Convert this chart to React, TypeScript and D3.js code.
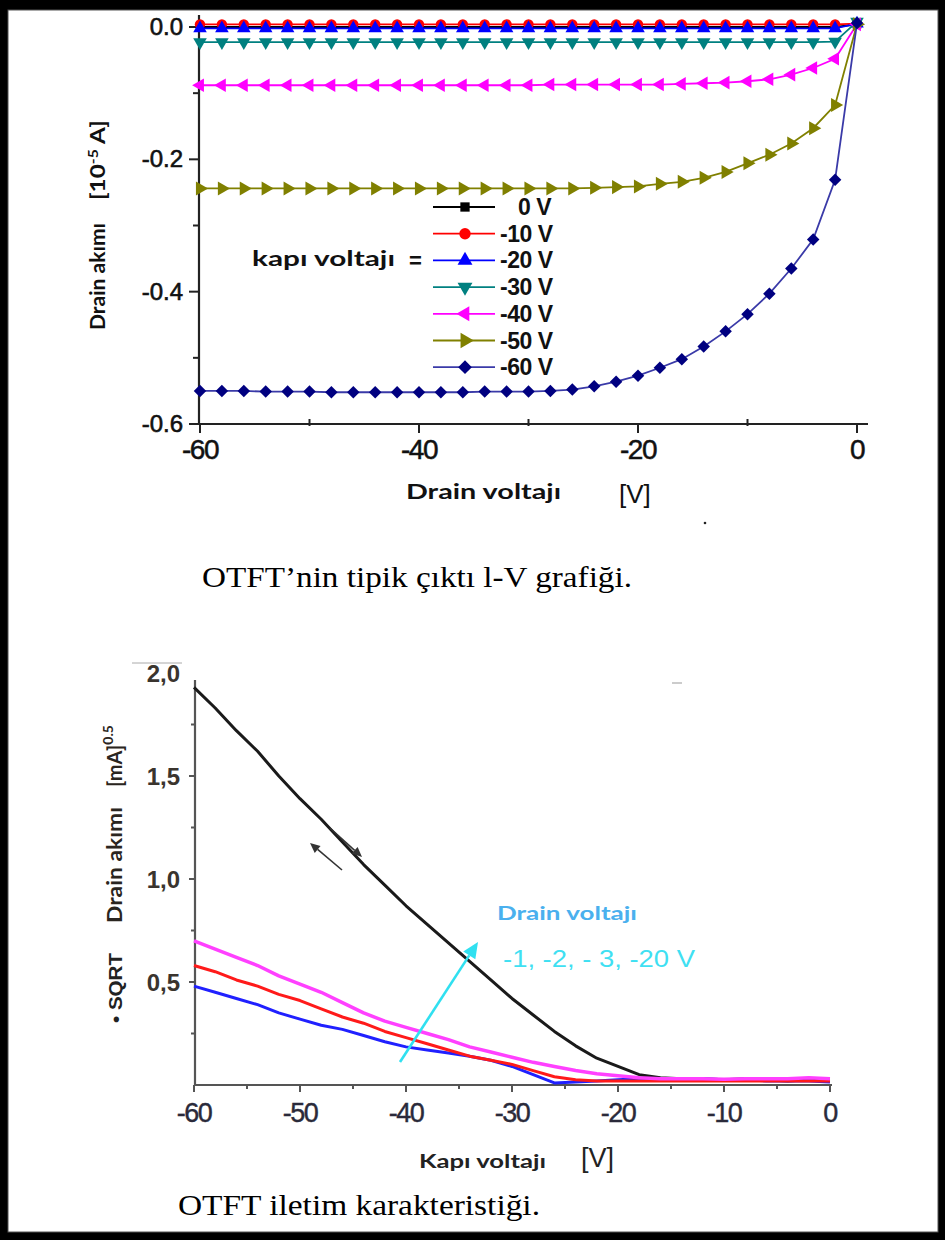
import React from "react";
import * as d3 from "d3";

// ---- top chart: output curves, drain voltage -60..0 V step 2
const drainV = [-60, -58, -56, -54, -52, -50, -48, -46, -44, -42, -40, -38, -36, -34, -32, -30,
  -28, -26, -24, -22, -20, -18, -16, -14, -12, -10, -8, -6, -4, -2, 0];

const gate0 = [0, 0, 0, 0, 0, 0, 0, 0, 0, 0, 0, 0, 0, 0, 0, 0, 0, 0, 0, 0, 0, 0, 0, 0, 0, 0, 0, 0, 0, 0, 0.004];
const gate10 = [0.004, 0.004, 0.004, 0.004, 0.004, 0.004, 0.004, 0.004, 0.004, 0.004, 0.004, 0.004, 0.004, 0.004, 0.004, 0.004,
  0.004, 0.004, 0.004, 0.004, 0.004, 0.004, 0.004, 0.004, 0.004, 0.004, 0.004, 0.004, 0.004, 0.004, 0.005];
const gate20 = [-0.002, -0.002, -0.002, -0.002, -0.002, -0.002, -0.002, -0.002, -0.002, -0.002, -0.002, -0.002, -0.002, -0.002, -0.002, -0.002,
  -0.002, -0.002, -0.002, -0.002, -0.002, -0.002, -0.002, -0.002, -0.002, -0.002, -0.002, -0.002, -0.002, -0.002, 0.005];
const gate30 = [-0.023, -0.023, -0.023, -0.023, -0.023, -0.023, -0.023, -0.023, -0.023, -0.023, -0.023, -0.023, -0.023, -0.023, -0.023, -0.023,
  -0.023, -0.023, -0.023, -0.023, -0.023, -0.023, -0.023, -0.023, -0.023, -0.023, -0.023, -0.023, -0.023, -0.022, 0.008];
const gate40 = [-0.088, -0.088, -0.088, -0.088, -0.088, -0.088, -0.088, -0.088, -0.088, -0.088, -0.088, -0.088, -0.088, -0.088, -0.088, -0.088,
  -0.087, -0.087, -0.087, -0.087, -0.087, -0.087, -0.086, -0.085, -0.084, -0.082, -0.079, -0.072, -0.062, -0.048, 0.004];
const gate50 = [-0.244, -0.244, -0.244, -0.244, -0.244, -0.244, -0.244, -0.244, -0.244, -0.244, -0.244, -0.244, -0.244, -0.244, -0.244, -0.244,
  -0.244, -0.244, -0.243, -0.242, -0.241, -0.237, -0.234, -0.228, -0.219, -0.206, -0.193, -0.176, -0.153, -0.118, 0.004];
const gate60 = [-0.55, -0.55, -0.55, -0.551, -0.551, -0.551, -0.552, -0.552, -0.552, -0.552, -0.552, -0.552, -0.552, -0.551, -0.551, -0.551,
  -0.55, -0.548, -0.543, -0.536, -0.527, -0.515, -0.502, -0.483, -0.46, -0.434, -0.403, -0.365, -0.321, -0.231, 0.006];

const legendLabels = ["0 V", "-10 V", "-20 V", "-30 V", "-40 V", "-50 V", "-60 V"];
const topYTicks = [0, -0.2, -0.4, -0.6];
const topYTickLabels = ["0.0", "-0.2", "-0.4", "-0.6"];
const topYMinor = [-0.1, -0.3, -0.5];
const topXTicks = [-60, -40, -20, 0];
const topXMinor = [-50, -30, -10];

// ---- bottom chart: transfer curves, gate voltage
const gateV = [-60, -58, -56, -54, -52, -50, -48, -46, -44, -42, -40, -38, -36, -34, -32, -30,
  -28, -26, -24, -22, -20, -18, -16, -14, -12, -10, -8, -6, -4, -2, 0];
const sqrtBlack = [1.93, 1.83, 1.72, 1.62, 1.5, 1.39, 1.29, 1.18, 1.07, 0.97, 0.87, 0.78, 0.69, 0.6, 0.51, 0.42,
  0.34, 0.26, 0.19, 0.13, 0.09, 0.05, 0.035, 0.03, 0.03, 0.025, 0.03, 0.025, 0.02, 0.025, 0.02];
const sqrtMagenta = [0.7, 0.66, 0.62, 0.58, 0.53, 0.49, 0.45, 0.4, 0.35, 0.31, 0.28, 0.25, 0.22, 0.185, 0.16, 0.135,
  0.11, 0.09, 0.07, 0.055, 0.045, 0.035, 0.03, 0.03, 0.03, 0.028, 0.03, 0.03, 0.03, 0.035, 0.03];
const sqrtRed = [0.58, 0.55, 0.51, 0.48, 0.44, 0.41, 0.37, 0.33, 0.3, 0.26, 0.23, 0.2, 0.17, 0.14, 0.12, 0.1,
  0.07, 0.04, 0.025, 0.02, 0.02, 0.02, 0.02, 0.02, 0.02, 0.02, 0.02, 0.02, 0.02, 0.02, 0.02];
const sqrtBlue = [0.48, 0.45, 0.42, 0.39, 0.35, 0.32, 0.29, 0.27, 0.24, 0.21, 0.185, 0.17, 0.155, 0.14, 0.12, 0.09,
  0.05, 0.01, 0.015, 0.02, 0.025, 0.03, 0.03, 0.03, 0.03, 0.025, 0.025, 0.02, 0.02, 0.02, 0.015];

const botYTicks = [0.5, 1.0, 1.5];
const botYTickLabels = ["0,5", "1,0", "1,5", "2,0"];
const botYLabelValues = [0.5, 1.0, 1.5, 2.0];
const botYMinor = [0.25, 0.75, 1.25, 1.75];
const botXTicks = [-60, -50, -40, -30, -20, -10, 0];
const botXMinor = [-55, -45, -35, -25, -15, -5];

const W = 945;
const H = 1240;

const topX = d3.scaleLinear().domain([-60, 0]).range([200, 857]);
const topY = d3.scaleLinear().domain([-0.6, 0]).range([424, 27]);
const botX = d3.scaleLinear().domain([-60, 0]).range([194, 830]);
const botY = d3.scaleLinear().domain([0, 2]).range([1085, 673]);

const sans = "'Liberation Sans', Arial, sans-serif";
const calib = "Lato, 'Open Sans', sans-serif";
const serif = "'Liberation Serif', 'Times New Roman', serif";

const topSeries = [
  { values: gate0, color: "#000000", line: "#000000", shape: d3.symbolSquare, size: 72, rot: 0 },
  { values: gate10, color: "#ff0000", line: "#ff0000", shape: d3.symbolCircle, size: 85, rot: 0 },
  { values: gate20, color: "#0000ff", line: "#0000ff", shape: d3.symbolTriangle, size: 80, rot: 0 },
  { values: gate30, color: "#008080", line: "#008080", shape: d3.symbolTriangle, size: 80, rot: 180 },
  { values: gate40, color: "#ff00ff", line: "#ff00ff", shape: d3.symbolTriangle, size: 80, rot: -90 },
  { values: gate50, color: "#808000", line: "#808000", shape: d3.symbolTriangle, size: 85, rot: 90 },
  { values: gate60, color: "#000080", line: "#3a3aa8", shape: d3.symbolSquare, size: 78, rot: 45 },
];

const botSeries = [
  { values: sqrtBlack, color: "#1a1a1a", width: 3 },
  { values: sqrtBlue, color: "#2020ff", width: 3 },
  { values: sqrtRed, color: "#ff1a1a", width: 3 },
  { values: sqrtMagenta, color: "#ff40ff", width: 3.5 },
];

function Arrow({ x1, y1, x2, y2, color, width, head }) {
  const a = Math.atan2(y2 - y1, x2 - x1);
  const bx = x2 - head * Math.cos(a);
  const by = y2 - head * Math.sin(a);
  const px = (head * 0.45) * Math.sin(a);
  const py = -(head * 0.45) * Math.cos(a);
  return (
    <g>
      <line x1={x1} y1={y1} x2={bx} y2={by} stroke={color} strokeWidth={width} />
      <path d={`M${x2},${y2}L${bx + px},${by + py}L${bx - px},${by - py}Z`} fill={color} />
    </g>
  );
}

export default function App() {
  const topLine = d3.line<number>()
    .x((d, i) => topX(drainV[i]))
    .y((d) => topY(d));
  const botLine = d3.line<number>()
    .x((d, i) => botX(gateV[i]))
    .y((d) => botY(d));

  return (
    <svg width={W} height={H} style={{ position: "absolute", left: 0, top: 0 }} fontFamily={sans}>
      {/* frame */}
      <rect x={0} y={0} width={W} height={H} fill="#000" />
      <rect x={8} y={10} width={930} height={1222} fill="#fff" stroke="#555" strokeWidth={1} />

      {/* ===== top chart ===== */}
      <g>
        {topYMinor.map((v) => (
          <line key={"tym" + v} x1={193} x2={200} y1={topY(v)} y2={topY(v)} stroke="#222" strokeWidth={2} />
        ))}
        {topYTicks.map((v, i) => (
          <g key={"ty" + v}>
            <line x1={189} x2={200} y1={topY(v)} y2={topY(v)} stroke="#222" strokeWidth={2} />
            <text x={183} y={topY(v) + 8} textAnchor="end" fontSize={24} fill="#111" stroke="#111" strokeWidth={0.6}>{topYTickLabels[i]}</text>
          </g>
        ))}
        {topXMinor.map((v) => (
          <line key={"txm" + v} x1={topX(v)} x2={topX(v)} y1={419} y2={426} stroke="#222" strokeWidth={2} />
        ))}
        {topXTicks.map((v) => (
          <g key={"tx" + v}>
            <line x1={topX(v)} x2={topX(v)} y1={424} y2={433} stroke="#222" strokeWidth={2} />
            <text x={topX(v)} y={459} textAnchor="middle" fontSize={28} fill="#111" stroke="#111" strokeWidth={0.5} letterSpacing={-1.5}>{v}</text>
          </g>
        ))}
        <line x1={199} x2={199} y1={15} y2={425} stroke="#222" strokeWidth={2.2} />
        <line x1={198} x2={868} y1={424} y2={424} stroke="#222" strokeWidth={2.2} />

        {topSeries.map((s, si) => (
          <g key={"ts" + si}>
            <path d={topLine(s.values) || ""} fill="none" stroke={s.line} strokeWidth={1.8} />
            {s.values.map((v, i) => (
              <path key={i}
                d={d3.symbol().type(s.shape).size(s.size)() || ""}
                transform={`translate(${topX(drainV[i])},${topY(v)}) rotate(${s.rot})`}
                fill={s.color} />
            ))}
          </g>
        ))}

        {/* legend */}
        <text x={252} y={266} fontFamily={calib} fontWeight="bold" fontSize={21} fill="#111" textLength={143} lengthAdjust="spacingAndGlyphs">kapı voltajı</text>
        <text x={409} y={268} fontWeight="bold" fontSize={22} fill="#111">=</text>
        {topSeries.map((s, i) => {
          const y = 207 + i * 26.7;
          return (
            <g key={"lg" + i}>
              <line x1={433} x2={495} y1={y} y2={y} stroke={s.line} strokeWidth={1.8} />
              <path d={d3.symbol().type(s.shape).size(s.size * 1.2)() || ""}
                transform={`translate(465,${y}) rotate(${s.rot})`} fill={s.color} />
              <text x={i === 0 ? 518 : 500} y={y + 8} fontSize={23} fill="#111" fontWeight="bold" letterSpacing={-0.5}>{legendLabels[i]}</text>
            </g>
          );
        })}

        {/* axis titles */}
        <g transform="translate(105,330) rotate(-90)">
          <text x={0} y={0} fontFamily={calib} fontWeight="bold" fontSize={20} fill="#111" textLength={107} lengthAdjust="spacingAndGlyphs">Drain akımı</text>
          <text x={130} y={0} fontFamily={calib} fontWeight="bold" fontSize={20} fill="#111" textLength={80} lengthAdjust="spacingAndGlyphs">
            [10<tspan dy={-7} fontSize={13}>-5</tspan><tspan dy={7}> A]</tspan>
          </text>
        </g>
        <text x={406} y={499} fontFamily={calib} fontWeight="bold" fontSize={20} fill="#111" textLength={155} lengthAdjust="spacingAndGlyphs">Drain voltajı</text>
        <text x={619} y={503} fontSize={26} fill="#111">[V]</text>
        <circle cx={705} cy={523} r={1.3} fill="#222" />

        <text x={202} y={587} fontFamily={serif} fontSize={30} fill="#000" textLength={430} lengthAdjust="spacingAndGlyphs">OTFT’nin tipik çıktı l-V grafiği.</text>
      </g>

      {/* ===== bottom chart ===== */}
      <g>
        <line x1={132} x2={182} y1={663} y2={663} stroke="#aaa" strokeWidth={1} />
        <line x1={672} x2={682} y1={683} y2={683} stroke="#bbb" strokeWidth={1.5} />
        {botYMinor.map((v) => (
          <line key={"bym" + v} x1={191} x2={195} y1={botY(v)} y2={botY(v)} stroke="#555" strokeWidth={2} />
        ))}
        {botYTicks.map((v) => (
          <line key={"by" + v} x1={189} x2={195} y1={botY(v)} y2={botY(v)} stroke="#555" strokeWidth={2} />
        ))}
        {botYLabelValues.map((v, i) => (
          <text key={"byl" + v} x={180} y={botY(v) + 9} textAnchor="end" fontSize={24} fontWeight="bold" fill="#3a342e">{botYTickLabels[i]}</text>
        ))}
        {botXMinor.map((v) => (
          <line key={"bxm" + v} x1={botX(v)} x2={botX(v)} y1={1085} y2={1089} stroke="#555" strokeWidth={2} />
        ))}
        {botXTicks.map((v) => (
          <g key={"bx" + v}>
            <line x1={botX(v)} x2={botX(v)} y1={1085} y2={1092} stroke="#555" strokeWidth={2} />
            <text x={botX(v)} y={1122} textAnchor="middle" fontSize={27} fill="#2a2a3a" stroke="#2a2a3a" strokeWidth={0.4} letterSpacing={-1.5}>{v}</text>
          </g>
        ))}
        <line x1={195} x2={195} y1={680} y2={1086} stroke="#555" strokeWidth={2.2} />
        <line x1={194} x2={832} y1={1085} y2={1085} stroke="#555" strokeWidth={2.2} />

        {botSeries.map((s, i) => (
          <path key={"bs" + i} d={botLine(s.values) || ""} fill="none" stroke={s.color} strokeWidth={s.width} strokeLinejoin="round" />
        ))}

        <Arrow x1={342} y1={870} x2={310} y2={843} color="#333" width={1.6} head={10} />
        <Arrow x1={330} y1={828} x2={362} y2={857} color="#333" width={1.6} head={10} />
        <Arrow x1={400} y1={1062} x2={478} y2={942} color="#30e0f0" width={2.6} head={16} />

        <text x={497} y={920} fontFamily={calib} fontWeight="bold" fontSize={18} fill="#4ab0ee" textLength={140} lengthAdjust="spacingAndGlyphs">Drain voltajı</text>
        <text x={503} y={967} fontSize={24} fill="#3fe0f2" textLength={192} lengthAdjust="spacingAndGlyphs">-1, -2, - 3, -20 V</text>

        <g transform="translate(122,1023) rotate(-90)">
          <text x={0} y={0} fontWeight="bold" fontSize={19} fill="#222" textLength={70} lengthAdjust="spacingAndGlyphs">• SQRT</text>
          <text x={100} y={0} fontFamily={calib} fontWeight="bold" fontSize={20} fill="#2a2520" textLength={116} lengthAdjust="spacingAndGlyphs">Drain akımı</text>
          <text x={236} y={0} fontFamily={calib} fontWeight="bold" fontSize={20} fill="#2a2520">
            [mA]<tspan dy={-9} fontSize={14}>0.5</tspan>
          </text>
        </g>

        <text x={419} y={1168} fontFamily={calib} fontWeight="bold" fontSize={19} fill="#222" textLength={127} lengthAdjust="spacingAndGlyphs">Kapı voltajı</text>
        <text x={581} y={1167} fontSize={27} fill="#222">[V]</text>

        <text x={178} y={1215} fontFamily={serif} fontSize={30} fill="#000" textLength={362} lengthAdjust="spacingAndGlyphs">OTFT iletim karakteristiği.</text>
      </g>
    </svg>
  );
}
